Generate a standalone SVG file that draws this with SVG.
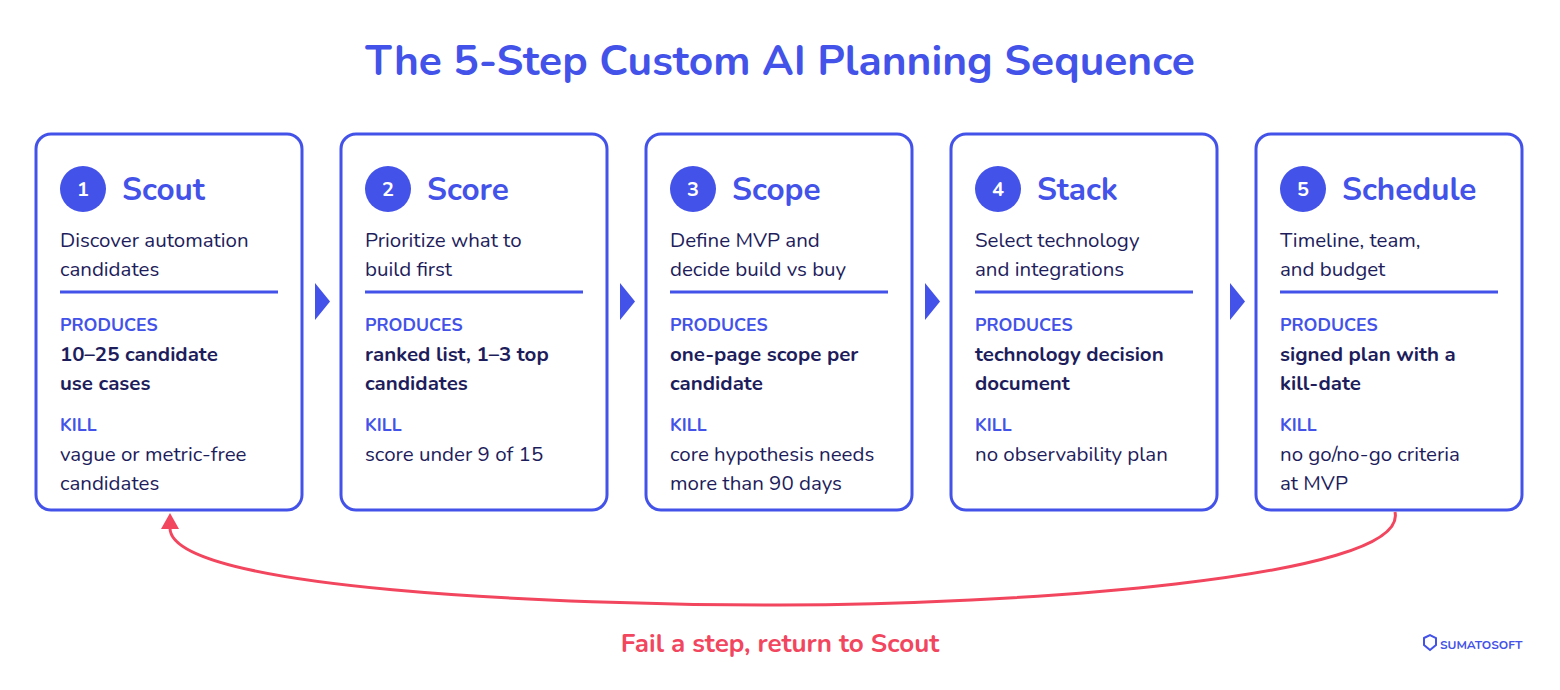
<svg xmlns="http://www.w3.org/2000/svg" width="1560" height="690" viewBox="0 0 1560 690">
<style>
text{font-family:"Nunito","Inter","Noto Sans",sans-serif}
.card{fill:#fff;stroke:#4352e8;stroke-width:3}
.title{font-size:42.5px;font-weight:700;fill:#4352e8}
.num{font-size:20px;font-weight:700;fill:#fff}
.h{font-size:31.5px;font-weight:700;fill:#4352e8}
.d{font-size:20.5px;fill:#1e1d5c}
.lab{font-size:17.7px;font-weight:700;fill:#4352e8}
.b{font-size:20.5px;font-weight:700;fill:#1e1d5c}
.div{stroke:#4352e8;stroke-width:3}
.tri{fill:#4352e8}
</style>
<rect width="1560" height="690" fill="#fff"/>
<text x="780" y="75" text-anchor="middle" class="title">The 5-Step Custom AI Planning Sequence</text>
<g id="connectors">
<polygon class="tri" points="315,283 330,301.5 315,320"/>
<polygon class="tri" points="620,283 635,301.5 620,320"/>
<polygon class="tri" points="925,283 940,301.5 925,320"/>
<polygon class="tri" points="1230,283 1245,301.5 1230,320"/>
<path d="M1395,512 C1410,580 1000,605 780,605 C560,605 170,590 170,528" fill="none" stroke="#f2455e" stroke-width="3"/>
<polygon points="161,529 170,513 179,529" fill="#f2455e"/>
</g>
<g id="n1">
<rect class="card" x="36" y="134" width="266" height="376" rx="15"/>
<circle cx="83" cy="189" r="23" fill="#4352e8"/><text x="83" y="196" text-anchor="middle" class="num">1</text>
<text x="122" y="200" class="h">Scout</text>
<text x="60" y="247" class="d">Discover automation</text><text x="60" y="276" class="d">candidates</text>
<line class="div" x1="60" y1="292" x2="278" y2="292"/>
<text x="60" y="331" class="lab">PRODUCES</text>
<text x="60" y="361" class="b">10–25 candidate</text><text x="60" y="390" class="b">use cases</text>
<text x="60" y="431" class="lab">KILL</text>
<text x="60" y="461" class="d">vague or metric-free</text><text x="60" y="490" class="d">candidates</text>
</g>
<g id="n2">
<rect class="card" x="341" y="134" width="266" height="376" rx="15"/>
<circle cx="388" cy="189" r="23" fill="#4352e8"/><text x="388" y="196" text-anchor="middle" class="num">2</text>
<text x="427" y="200" class="h">Score</text>
<text x="365" y="247" class="d">Prioritize what to</text><text x="365" y="276" class="d">build first</text>
<line class="div" x1="365" y1="292" x2="583" y2="292"/>
<text x="365" y="331" class="lab">PRODUCES</text>
<text x="365" y="361" class="b">ranked list, 1–3 top</text><text x="365" y="390" class="b">candidates</text>
<text x="365" y="431" class="lab">KILL</text>
<text x="365" y="461" class="d">score under 9 of 15</text>
</g>
<g id="n3">
<rect class="card" x="646" y="134" width="266" height="376" rx="15"/>
<circle cx="693" cy="189" r="23" fill="#4352e8"/><text x="693" y="196" text-anchor="middle" class="num">3</text>
<text x="732" y="200" class="h">Scope</text>
<text x="670" y="247" class="d">Define MVP and</text><text x="670" y="276" class="d">decide build vs buy</text>
<line class="div" x1="670" y1="292" x2="888" y2="292"/>
<text x="670" y="331" class="lab">PRODUCES</text>
<text x="670" y="361" class="b">one-page scope per</text><text x="670" y="390" class="b">candidate</text>
<text x="670" y="431" class="lab">KILL</text>
<text x="670" y="461" class="d">core hypothesis needs</text><text x="670" y="490" class="d">more than 90 days</text>
</g>
<g id="n4">
<rect class="card" x="951" y="134" width="266" height="376" rx="15"/>
<circle cx="998" cy="189" r="23" fill="#4352e8"/><text x="998" y="196" text-anchor="middle" class="num">4</text>
<text x="1037" y="200" class="h">Stack</text>
<text x="975" y="247" class="d">Select technology</text><text x="975" y="276" class="d">and integrations</text>
<line class="div" x1="975" y1="292" x2="1193" y2="292"/>
<text x="975" y="331" class="lab">PRODUCES</text>
<text x="975" y="361" class="b">technology decision</text><text x="975" y="390" class="b">document</text>
<text x="975" y="431" class="lab">KILL</text>
<text x="975" y="461" class="d">no observability plan</text>
</g>
<g id="n5">
<rect class="card" x="1256" y="134" width="266" height="376" rx="15"/>
<circle cx="1303" cy="189" r="23" fill="#4352e8"/><text x="1303" y="196" text-anchor="middle" class="num">5</text>
<text x="1342" y="200" class="h">Schedule</text>
<text x="1280" y="247" class="d">Timeline, team,</text><text x="1280" y="276" class="d">and budget</text>
<line class="div" x1="1280" y1="292" x2="1498" y2="292"/>
<text x="1280" y="331" class="lab">PRODUCES</text>
<text x="1280" y="361" class="b">signed plan with a</text><text x="1280" y="390" class="b">kill-date</text>
<text x="1280" y="431" class="lab">KILL</text>
<text x="1280" y="461" class="d">no go/no-go criteria</text><text x="1280" y="490" class="d">at MVP</text>
</g>
<text x="780" y="652" text-anchor="middle" font-size="26" font-weight="700" fill="#f2455e">Fail a step, return to Scout</text>
<g id="logo">
<path d="M1424,638 L1430,635 L1436,638 L1436,645 L1430,650 L1424,645 Z" fill="none" stroke="#4352e8" stroke-width="2"/>
<text x="1440" y="649" font-size="12" font-weight="700" fill="#4352e8">SUMATOSOFT</text>
</g>
</svg>
